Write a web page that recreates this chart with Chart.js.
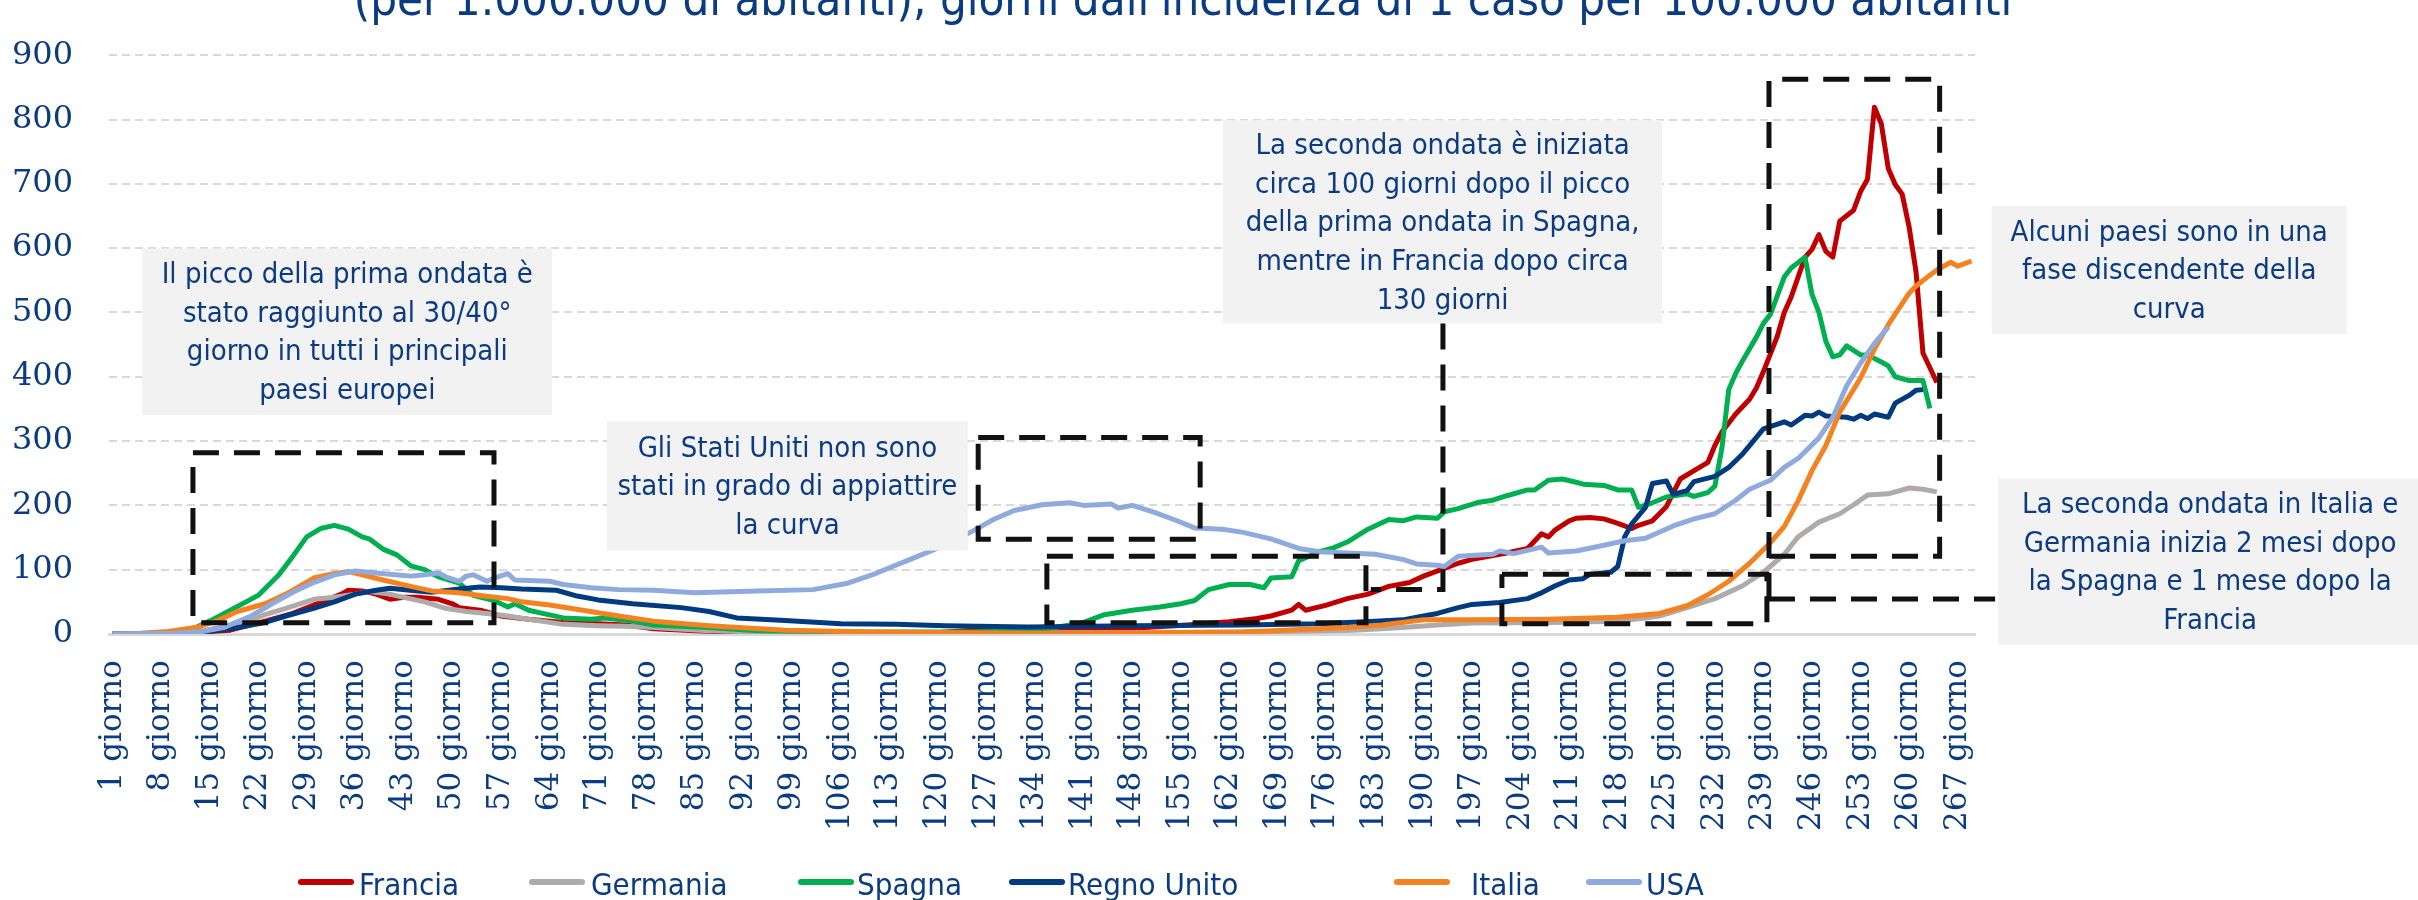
<!DOCTYPE html>
<html>
<head>
<meta charset="utf-8">
<script src="https://cdn.jsdelivr.net/npm/chart.js@4.4.1/dist/chart.umd.min.js"></script>
<style>
  html, body { margin: 0; padding: 0; background: #fff; }
  #wrap { width: 2418px; height: 900px; }
</style>
</head>
<body>
<div id="wrap"><canvas id="main" width="2418" height="900"></canvas></div>
<script>
// giorni mostrati sull'asse x
const tickDays = [1, 8, 15, 22, 29, 36, 43, 50, 57, 64, 71, 78, 85, 92, 99, 106, 113, 120, 127, 134,
    141, 148, 155, 162, 169, 176, 183, 190, 197, 204, 211, 218, 225, 232, 239, 246, 253, 260, 267];

const countries = ['Francia', 'Germania', 'Spagna', 'Regno Unito', 'Italia', 'USA'];

// [giorno, casi per 1.000.000 di abitanti]
const francia = [[1,0],[8,1],[12,3],[15,4],[18,6],[23,20],[27,32],[30,45],[34,62],[35,68],[37,67],[39,62],
    [41,54],[43,57],[45,57],[48,54],[50,47],[51,41],[54,37],[57,28],[61,23],[66,18],[71,16],[75,14],[79,8],
    [85,5],[90,3],[100,2],[110,1.5],[120,2],[125,6],[130,4],[140,5],[148,9],[156,14],[162,19],[166,24],
    [168,28],[171,37],[172,46],[173,37],[176,45],[179,55],[182,62],[185,74],[188,80],[190,90],[193,102],
    [195,110],[197,116],[200,122],[202,126],[205,133],[207,156],[208,151],[209,162],[211,176],[212,180],
    [214,181],[216,179],[218,172],[220,164],[221,169],[223,176],[225,198],[227,241],[229,254],[231,267],
    [232,293],[233,314],[235,342],[237,365],[238,383],[239,408],[241,463],[242,500],[243,524],[245,586],
    [246,598],[247,621],[248,595],[249,586],[250,642],[252,659],[253,688],[254,707],[255,819],[256,793],
    [257,724],[258,699],[259,684],[260,633],[261,563],[262,437],[263,414],[264,391]];

const germania = [[1,0],[10,1],[14,5],[18,13],[21,22],[23,30],[26,40],[28,47],[30,54],[33,57],[36,62],
    [38,66],[41,62],[43,57],[46,50],[49,40],[52,35],[55,32],[58,28],[61,23],[66,15],[71,13],[75,12],[79,10],
    [87,5],[95,3],[110,2],[130,2],[150,2],[170,4],[180,6],[187,10],[192,14],[197,17],[208,18],[218,20],
    [222,25],[224,28],[228,41],[232,55],[236,75],[239,96],[242,124],[244,151],[247,174],[250,187],[252,201],
    [254,216],[257,218],[260,227],[262,225],[264,221]];

const spagna = [[1,0],[8,1],[12,8],[13,10],[15,20],[18,37],[22,60],[25,92],[27,121],[29,151],[31,164],
    [33,169],[35,163],[37,151],[38,148],[40,132],[42,123],[44,106],[46,100],[48,89],[51,79],[53,60],[56,52],
    [58,42],[59,47],[61,37],[63,32],[66,25],[70,23],[72,25],[76,20],[79,14],[87,10],[94,5],[110,3],[125,3],
    [133,5],[137,10],[141,18],[144,30],[148,37],[152,42],[155,47],[157,52],[159,69],[162,77],[165,77],
    [167,72],[168,87],[171,89],[172,114],[175,128],[177,134],[179,143],[182,163],[185,178],[187,176],
    [189,182],[192,180],[193,190],[195,195],[198,205],[200,208],[202,215],[205,224],[206,224],[208,239],
    [210,241],[212,236],[213,233],[216,231],[218,224],[220,224],[221,197],[223,204],[225,213],[228,218],
    [229,214],[231,220],[232,230],[233,288],[234,380],[235,405],[236,425],[238,462],[239,483],[240,497],
    [242,555],[243,569],[245,586],[246,528],[247,500],[248,455],[249,431],[250,434],[251,448],[253,434],
    [254,434],[256,423],[257,417],[258,400],[260,394],[262,394],[263,351]];

const regnoUnito = [[1,0],[10,1],[14,3],[18,8],[23,18],[26,28],[30,40],[33,50],[36,62],[39,68],[41,71],
    [45,67],[47,65],[51,70],[54,73],[57,72],[60,70],[65,68],[68,59],[71,53],[76,47],[83,41],[87,35],[91,25],
    [98,21],[106,16],[114,15],[121,13],[133,11],[148,13],[164,14],[175,16],[183,20],[187,22],[190,28],
    [192,32],[195,41],[197,46],[201,49],[205,55],[207,64],[209,75],[211,84],[213,86],[214,93],[217,96],
    [218,105],[219,151],[220,171],[222,197],[223,234],[225,238],[226,217],[228,223],[229,237],[232,245],
    [234,259],[236,280],[237,293],[239,319],[242,330],[243,325],[245,340],[246,339],[247,345],[248,339],
    [251,337],[252,334],[253,340],[254,335],[255,342],[257,337],[258,359],[260,371],[261,379],[262,380]];

const italia = [[1,0],[5,1],[9,4],[13,10],[16,20],[19,35],[23,47],[26,62],[30,87],[33,94],[35,97],[37,92],
    [40,84],[44,74],[47,67],[51,64],[54,60],[58,55],[60,50],[64,45],[67,40],[71,33],[74,28],[79,20],[87,13],
    [98,6],[110,3],[133,1],[150,2],[164,3],[179,10],[184,14],[190,22],[197,22],[208,23],[218,26],[224,32],
    [228,44],[231,61],[234,82],[237,110],[240,142],[242,167],[244,207],[246,254],[248,293],[250,345],
    [253,398],[255,443],[257,481],[260,530],[261,541],[263,558],[264,566],[266,578],[267,572],[269,580]];

const usa = [[1,0],[10,1],[14,4],[17,10],[21,28],[24,47],[27,65],[30,80],[33,92],[36,98],[39,95],[41,93],
    [44,90],[46,92],[48,95],[49,89],[51,82],[52,90],[53,92],[55,82],[56,87],[58,94],[59,84],[61,83],[64,82],
    [66,77],[70,72],[74,69],[79,68],[85,64],[94,67],[102,69],[107,79],[111,94],[116,116],[121,138],
    [125,160],[128,178],[131,192],[135,201],[139,204],[141,200],[145,202],[146,196],[148,200],[151,190],
    [154,178],[157,165],[161,163],[164,158],[168,148],[172,133],[175,128],[179,126],[183,124],[187,116],
    [189,109],[192,107],[193,105],[195,121],[200,124],[201,129],[203,125],[207,135],[208,126],[212,129],
    [216,138],[219,145],[222,149],[226,168],[229,179],[232,187],[235,208],[237,225],[240,239],[242,259],
    [244,273],[247,305],[249,337],[251,386],[253,421],[255,452],[257,477]];

const seriesData = [francia, germania, spagna, regnoUnito, italia, usa];
const colors = ['#C00000', '#AFABAB', '#00B050', '#003B80', '#F58220', '#8FAADC'];

const NAVY = '#0B3C82';
const SANS = "'DejaVu Sans Condensed', 'DejaVu Sans', sans-serif";
const SERIF = "'DejaVu Serif', serif";

const titleText = "(per 1.000.000 di abitanti), giorni dall'incidenza di 1 caso per 100.000 abitanti";

// riquadri di testo, in unita' del grafico (giorno, valore)
const notes = [
    { x0: 5.3, x1: 64.4, y0: 599.5, y1: 341,
      lines: ['Il picco della prima ondata è', 'stato raggiunto al 30/40°', 'giorno in tutti i principali', 'paesi europei'] },
    { x0: 72.3, x1: 124.3, y0: 330.7, y1: 129.7,
      lines: ['Gli Stati Uniti non sono', 'stati in grado di appiattire', 'la curva'] },
    { x0: 161.1, x1: 224.4, y0: 799.1, y1: 482.9,
      lines: ['La seconda ondata è iniziata', 'circa 100 giorni dopo il picco', 'della prima ondata in Spagna,', 'mentre in Francia dopo circa', '130 giorni'] },
    { x0: 271.9, x1: 323.1, y0: 666.1, y1: 466.6,
      lines: ['Alcuni paesi sono in una', 'fase discendente della', 'curva'] },
    { x0: 272.8, x1: 334, y0: 242, y1: -16.5,
      lines: ['La seconda ondata in Italia e', 'Germania inizia 2 mesi dopo', 'la Spagna e 1 mese dopo la', 'Francia'] }
];

function rect(x0, y0, x1, y1) {
    return [[x0, y0], [x1, y0], [x1, y1], [x0, y1], [x0, y0]];
}

// tratteggi neri
const dashed = [
    rect(12.6, 282, 56.0, 17.4),
    rect(125.8, 305.6, 157.8, 147.5),
    rect(135.7, 120.9, 181.7, 17.4),
    [[192.8, 482.9], [192.8, 69.1], [182.4, 69.1]],
    rect(201.3, 92.8, 239.5, 16.0),
    [[239.8, 54.4], [239.8, 862.6], [264.4, 862.6], [264.4, 120.9], [239.8, 120.9]],
    [[239.8, 54.4], [272.4, 54.4]]
];

// legenda disegnata a mano come in Excel
const legendPos = [[298, 359], [529, 591], [798, 857], [1009, 1068], [1394, 1471], [1586, 1646]];

const overlay = {
    id: 'overlay',
    afterDatasetsDraw(chart) {
        const { ctx, scales: { x, y } } = chart;
        const px = d => x.getPixelForValue(d);
        const py = v => y.getPixelForValue(v);
        ctx.save();

        ctx.fillStyle = '#F2F2F2';
        notes.forEach(n => {
            ctx.fillRect(px(n.x0), py(n.y0), px(n.x1) - px(n.x0), py(n.y1) - py(n.y0));
        });

        ctx.strokeStyle = '#111111';
        ctx.lineWidth = 5;
        ctx.setLineDash([26, 15]);
        dashed.forEach(path => {
            ctx.beginPath();
            path.forEach(([d, v], i) => i ? ctx.lineTo(px(d), py(v)) : ctx.moveTo(px(d), py(v)));
            ctx.stroke();
        });
        ctx.setLineDash([]);

        ctx.fillStyle = NAVY;
        ctx.font = '29px ' + SANS;
        ctx.textAlign = 'center';
        ctx.textBaseline = 'middle';
        const lh = 38.7;
        notes.forEach(n => {
            const cx = (px(n.x0) + px(n.x1)) / 2;
            const cy = (py(n.y0) + py(n.y1)) / 2 + 2;
            const top = cy - (n.lines.length - 1) * lh / 2;
            n.lines.forEach((t, i) => ctx.fillText(t, cx, top + i * lh));
        });
        ctx.restore();
    },
    afterDraw(chart) {
        const ctx = chart.ctx;
        ctx.save();
        // seconda riga del titolo, la prima e' fuori dall'immagine
        ctx.fillStyle = NAVY;
        ctx.font = '47px ' + SANS;
        ctx.textAlign = 'center';
        ctx.textBaseline = 'alphabetic';
        ctx.fillText(titleText, 1183, 15);

        ctx.font = '31px ' + SANS;
        ctx.textAlign = 'left';
        ctx.lineWidth = 6;
        ctx.lineCap = 'round';
        countries.forEach((name, i) => {
            const [lx, tx] = legendPos[i];
            ctx.strokeStyle = colors[i];
            ctx.beginPath();
            ctx.moveTo(lx + 3, 882);
            ctx.lineTo(lx + 53, 882);
            ctx.stroke();
            ctx.fillStyle = NAVY;
            ctx.fillText(name, tx, 895);
        });
        ctx.restore();
    }
};

const datasets = countries.map((name, i) => ({
    label: name,
    data: seriesData[i].map(([d, v]) => ({ x: d, y: v })),
    borderColor: colors[i],
    backgroundColor: colors[i],
    borderWidth: 5,
    pointRadius: 0,
    tension: 0,
    borderJoinStyle: 'round',
    order: countries.length - i   // l'ultima serie sopra, come in Excel
}));

window.onload = function() {
    var main = document.getElementById('main').getContext('2d');
    var myChart = new Chart(main, {
        type: 'line',
        data: { datasets: datasets },
        options: {
            responsive: false,
            animation: false,
            layout: { padding: { top: 25, right: 443, left: 0, bottom: 0 } },
            plugins: {
                legend: { display: false },
                tooltip: { enabled: false }
            },
            scales: {
                x: {
                    type: 'linear',
                    min: 0.5,
                    max: 269.5,
                    afterBuildTicks: axis => { axis.ticks = tickDays.map(v => ({ value: v })); },
                    afterFit: scale => { scale.height = 266; },
                    grid: { display: false, drawTicks: false },
                    border: { display: true, color: '#D9D9D9', width: 3 },
                    ticks: {
                        autoSkip: false,
                        minRotation: 90,
                        maxRotation: 90,
                        padding: 26,
                        color: NAVY,
                        font: { family: SERIF, size: 31 },
                        callback: v => v + ' giorno'
                    }
                },
                y: {
                    min: 0,
                    max: 900,
                    afterFit: scale => { scale.width = 109; },
                    grid: { color: '#D9D9D9', lineWidth: 2, drawTicks: false },
                    border: { display: false, dash: [8, 5] },
                    ticks: {
                        stepSize: 100,
                        padding: 36,
                        color: NAVY,
                        font: { family: SERIF, size: 32 }
                    }
                }
            }
        },
        plugins: [overlay]
    });
};
</script>
</body>
</html>
